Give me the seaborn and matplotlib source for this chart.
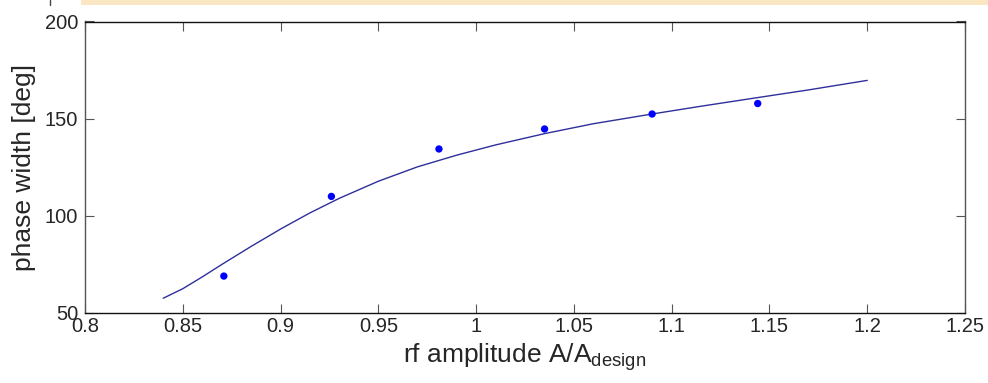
import numpy as np
import pandas as pd
import matplotlib
matplotlib.use("Agg")
import matplotlib.pyplot as plt
from matplotlib.patches import Rectangle
from matplotlib.lines import Line2D
import seaborn as sns

# measured points
meas_x = [0.871, 0.926, 0.981, 1.035, 1.090, 1.144]
meas_y = [69.0, 110.0, 134.4, 144.7, 152.4, 157.8]

# simulation curve
curve_x = [0.84, 0.85, 0.86, 0.87, 0.885, 0.90, 0.915, 0.93, 0.95, 0.97, 0.99, 1.01,
           1.035, 1.06, 1.09, 1.115, 1.145, 1.17, 1.20]
curve_y = [57.6, 62.5, 68.6, 75.0, 84.3, 93.2, 101.5, 109.0, 117.8, 125.2, 131.2, 136.5,
           142.3, 147.4, 152.4, 156.4, 161.0, 164.8, 169.7]

x_ticks = [0.8, 0.85, 0.9, 0.95, 1.0, 1.05, 1.1, 1.15, 1.2, 1.25]
x_tick_labels = ["0.8", "0.85", "0.9", "0.95", "1", "1.05", "1.1", "1.15", "1.2", "1.25"]
y_ticks = [50, 100, 150, 200]
y_tick_labels = ["50", "100", "150", "200"]

sns.set_style("white")
plt.rcParams["font.family"] = ["Liberation Sans", "DejaVu Sans"]
plt.rcParams["mathtext.fontset"] = "custom"
plt.rcParams["mathtext.rm"] = "Liberation Sans"
plt.rcParams["mathtext.it"] = "Liberation Sans"

fig = plt.figure(figsize=(9.88, 3.83), dpi=100)
fig.patch.set_facecolor("white")
ax = fig.add_axes([85 / 988, 1 - 313 / 383, (965 - 85) / 988, (313 - 21.5) / 383])

# decorative slide band at top
fig.patches.append(Rectangle((81 / 988, 1 - 4.5 / 383), 1, 4.5 / 383,
                             transform=fig.transFigure, facecolor="#FBE6C4",
                             edgecolor="none", zorder=0))
fig.lines.append(Line2D([50 / 988, 50 / 988], [1, 1 - 4.5 / 383],
                        transform=fig.transFigure, color="#444444", lw=1))

curve_df = pd.DataFrame({"x": curve_x, "y": curve_y})
meas_df = pd.DataFrame({"x": meas_x, "y": meas_y})

sns.lineplot(data=curve_df, x="x", y="y", ax=ax, color="#2f2f9c", lw=1.0,
             estimator=None, sort=False)
sns.scatterplot(data=meas_df, x="x", y="y", ax=ax, color="#0000ff", s=28,
                edgecolor="none", zorder=5)

ax.set_xlim(0.8, 1.25)
ax.set_ylim(50, 200)
ax.set_xticks(x_ticks)
ax.set_xticklabels(x_tick_labels)
ax.set_yticks(y_ticks)
ax.set_yticklabels(y_tick_labels)

ax.tick_params(axis="both", which="both", direction="in", length=6.5, width=0.8,
               color="#555555", labelsize=14.5, top=True, right=True,
               bottom=True, left=True)
ax.tick_params(axis="x", pad=3)
ax.tick_params(axis="y", pad=5)

for side in ["top", "bottom"]:
    ax.spines[side].set_color("#111111")
    ax.spines[side].set_linewidth(1.0)
for side in ["left", "right"]:
    ax.spines[side].set_color("#555555")
    ax.spines[side].set_linewidth(1.0)
    ax.spines[side].set_visible(True)

ax.set_xlabel(r"rf amplitude A/A$_{\mathrm{design}}$", fontsize=19, labelpad=4)
ax.set_ylabel("phase width [deg]", fontsize=19, labelpad=6)

fig.savefig("out.png", dpi=100, facecolor="white")
